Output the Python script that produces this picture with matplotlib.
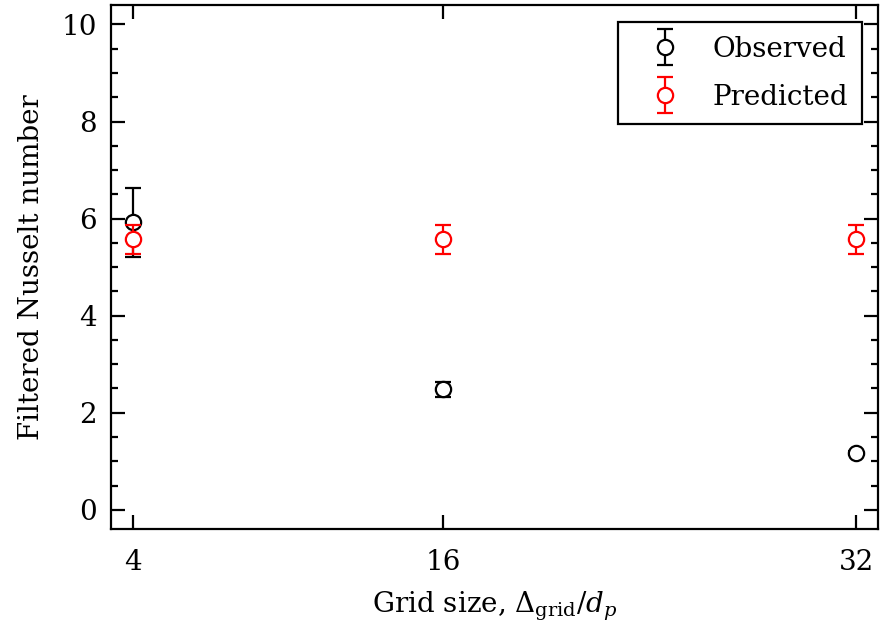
import numpy as np
import matplotlib
matplotlib.use("Agg")
import matplotlib.pyplot as plt
from matplotlib.ticker import MultipleLocator
from matplotlib.legend_handler import HandlerErrorbar

plt.rcParams["font.family"] = ["DejaVu Serif"]
plt.rcParams["mathtext.fontset"] = "dejavuserif"

# Gögn
grid_size = [4, 16, 32]
obs_nu    = [5.92, 2.48, 1.17]
obs_err   = [0.71, 0.15, 0.04]
pred_nu   = [5.57, 5.57, 5.57]
pred_err  = [0.29, 0.29, 0.29]

fig = plt.figure(figsize=(8.8, 6.33), dpi=100)
ax = fig.add_axes([0.126, 0.164, 0.872, 0.828])

fs = 20
kw = dict(fmt="o", ms=11, mew=1.6, mfc="white", elinewidth=1.6,
          capsize=5.5, capthick=1.6)
eb_obs = ax.errorbar(grid_size, obs_nu, yerr=obs_err, color="k", ecolor="k",
                     label="Observed", zorder=3, **kw)
eb_pred = ax.errorbar(grid_size, pred_nu, yerr=pred_err, color="red", ecolor="red",
                      label="Predicted", zorder=4, **kw)

ax.set_xlim(3.15, 32.85)
ax.set_ylim(-0.4, 10.4)
ax.set_xticks(grid_size)
ax.yaxis.set_major_locator(MultipleLocator(2))
ax.yaxis.set_minor_locator(MultipleLocator(0.5))

ax.tick_params(which="both", direction="in", top=True, right=True,
               width=1.6, labelsize=fs)
ax.tick_params(which="major", length=10)
ax.tick_params(axis="y", which="major", pad=10)
ax.tick_params(axis="x", which="major", pad=14)
ax.tick_params(which="minor", length=5)
for s in ax.spines.values():
    s.set_linewidth(1.6)

ax.set_xlabel(r"Grid size, $\Delta_{\mathrm{grid}}/d_p$", fontsize=fs, labelpad=10)
ax.set_ylabel("Filtered Nusselt number", fontsize=fs, labelpad=12)

leg = ax.legend(loc="upper right", fontsize=fs, fancybox=False,
                edgecolor="k", framealpha=1, borderpad=0.5,
                labelspacing=0.75, handlelength=2.4, handletextpad=0.5,
                borderaxespad=0, bbox_to_anchor=(0.979, 0.968),
                handler_map={eb_obs: HandlerErrorbar(yerr_size=0.65),
                             eb_pred: HandlerErrorbar(yerr_size=0.65)})
leg.get_frame().set_linewidth(1.6)

fig.savefig("out.png", dpi=100)
